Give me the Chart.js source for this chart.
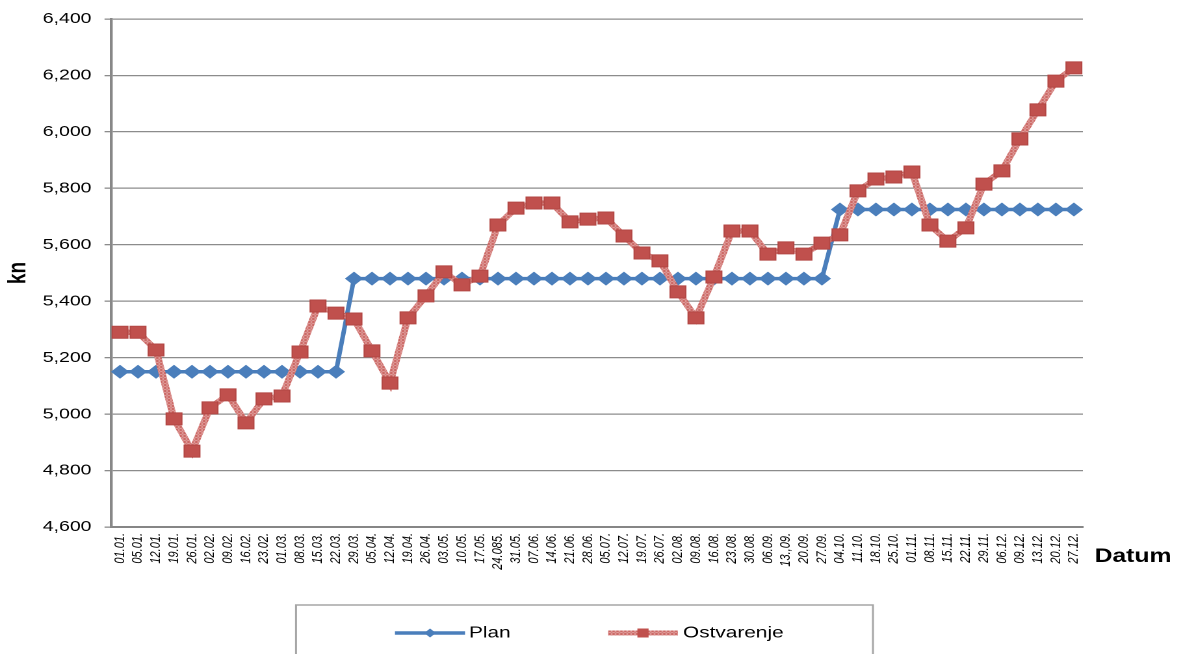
<!DOCTYPE html>
<html>
<head>
<meta charset="utf-8">
<title>Plan / Ostvarenje</title>
<script src="https://cdn.jsdelivr.net/npm/chart.js@4.4.1/dist/chart.umd.min.js"></script>
<style>
    html, body { margin: 0; padding: 0; background: #fff; overflow: hidden; }
    /* the original picture is stretched sideways, so the chart is drawn narrower and scaled */
    #wrap { width: 910px; height: 654px; transform: scaleX(1.3); transform-origin: 0 0; }
</style>
</head>
<body>
<div id="wrap"><canvas id="lineChart"></canvas></div>
<script>
// x kategorije (datumi)
const datumi = ['01.01.', '05.01.', '12.01.', '19.01.', '26.01.', '02.02.', '09.02.', '16.02.', '23.02.',
    '01.03.', '08.03.', '15.03.', '22.03.', '29.03.', '05.04.', '12.04.', '19.04.', '26.04.', '03.05.',
    '10.05.', '17.05.', '24.085.', '31.05.', '07.06.', '14.06.', '21.06.', '28.06.', '05.07.', '12.07.',
    '19.07.', '26.07.', '02.08.', '09.08.', '16.08.', '23.08.', '30.08.', '06.09.', '13.,09.', '20.09.',
    '27.09.', '04.10.', '11.10.', '18.10.', '25.10.', '01.11.', '08.11.', '15.11.', '22.11.', '29.11.',
    '06.12.', '09.12.', '13.12.', '20.12.', '27.12.'];

const plan = [5150, 5150, 5150, 5150, 5150, 5150, 5150, 5150, 5150, 5150, 5150, 5150, 5150,
    5480, 5480, 5480, 5480, 5480, 5480, 5480, 5480, 5480, 5480, 5480, 5480, 5480, 5480,
    5480, 5480, 5480, 5480, 5480, 5480, 5480, 5480, 5480, 5480, 5480, 5480, 5480,
    5725, 5725, 5725, 5725, 5725, 5725, 5725, 5725, 5725, 5725, 5725, 5725, 5725, 5725];

const ostvarenje = [5290, 5290, 5227, 4983, 4869, 5022, 5068, 4969, 5054, 5064,
    5220, 5383, 5358, 5337, 5224, 5110, 5341, 5419, 5504, 5458,
    5489, 5670, 5730, 5748, 5748, 5681, 5691, 5695, 5631, 5571,
    5543, 5433, 5341, 5486, 5649, 5649, 5567, 5589, 5567, 5606,
    5635, 5791, 5833, 5840, 5858, 5670, 5613, 5660, 5815, 5862,
    5975, 6078, 6180, 6227];

// y os
const yMin = 4600;
const yMax = 6400;
const yStep = 200;

const BLUE = '#4A7EBB';
const RED = '#C0504D';

// crvena linija ima "šrafiran" izgled
function hatchPattern() {
    let c = document.createElement('canvas');
    c.width = 3;
    c.height = 3;
    let g = c.getContext('2d');
    g.fillStyle = '#E6B0AE';
    g.fillRect(0, 0, 3, 3);
    g.fillStyle = '#C95F5C';
    g.fillRect(0, 0, 2, 2);
    g.fillRect(2, 2, 1, 1);
    return g.createPattern(c, 'repeat');
}
const redLine = hatchPattern();

// legenda u okviru + naslov osi "Datum"
const extras = {
    id: 'extras',
    afterDraw(chart) {
        let ctx = chart.ctx;
        ctx.save();
        ctx.strokeStyle = '#A6A6A6';
        ctx.lineWidth = 1.5;
        ctx.strokeRect(227.7, 605, 443.8, 90);

        // Plan
        ctx.strokeStyle = BLUE;
        ctx.lineWidth = 3.5;
        ctx.beginPath();
        ctx.moveTo(303.8, 633);
        ctx.lineTo(357.7, 633);
        ctx.stroke();
        ctx.fillStyle = BLUE;
        ctx.beginPath();
        ctx.moveTo(330.8 - 4.5, 633);
        ctx.lineTo(330.8, 628.5);
        ctx.lineTo(330.8 + 4.5, 633);
        ctx.lineTo(330.8, 637.5);
        ctx.closePath();
        ctx.fill();

        // Ostvarenje
        ctx.strokeStyle = redLine;
        ctx.lineWidth = 5;
        ctx.beginPath();
        ctx.moveTo(467.7, 633);
        ctx.lineTo(521.5, 633);
        ctx.stroke();
        ctx.fillStyle = RED;
        ctx.fillRect(490.3, 628.5, 8.6, 9);

        ctx.fillStyle = '#000';
        ctx.textBaseline = 'middle';
        ctx.textAlign = 'left';
        ctx.font = '16px "Liberation Sans", Arial, sans-serif';
        ctx.fillText('Plan', 360.8, 633);
        ctx.fillText('Ostvarenje', 525.4, 633);

        ctx.font = 'bold 19px "Liberation Sans", Arial, sans-serif';
        ctx.fillText('Datum', 842, 557);
        ctx.restore();
    }
};

new Chart(document.getElementById('lineChart'), {
    type: 'line',
    data: {
        labels: datumi,
        datasets: [
            {
                label: 'Plan',
                data: plan,
                order: 2,
                borderColor: BLUE,
                backgroundColor: BLUE,
                borderWidth: 3.5,
                tension: 0,
                pointStyle: 'rectRot',
                pointRadius: 7,
                pointBorderWidth: 0,
                pointBackgroundColor: BLUE
            },
            {
                label: 'Ostvarenje',
                data: ostvarenje,
                order: 1,
                borderColor: redLine,
                backgroundColor: RED,
                borderWidth: 5.5,
                tension: 0,
                pointStyle: 'rect',
                pointRadius: 8.5,
                pointBorderWidth: 1,
                pointBackgroundColor: RED,
                pointBorderColor: '#B34744'
            }
        ]
    },
    options: {
        responsive: true,
        maintainAspectRatio: false,
        animation: false,
        devicePixelRatio: 2,
        events: [],
        layout: {
            padding: {left: 3, right: 77, top: 19, bottom: 62}
        },
        plugins: {
            legend: {display: false},
            tooltip: {enabled: false}
        },
        scales: {
            x: {
                type: 'category',
                offset: true,
                grid: {display: false, drawTicks: false},
                border: {display: true, color: '#868686', width: 2},
                ticks: {
                    autoSkip: false,
                    minRotation: 90,
                    maxRotation: 90,
                    padding: 6,
                    color: '#000',
                    font: {family: '"Liberation Sans", Arial, sans-serif', size: 11, style: 'italic'}
                },
                afterFit(scale) {
                    scale.height = 65;
                }
            },
            y: {
                min: yMin,
                max: yMax,
                grid: {color: '#8C8C8C', lineWidth: 1.3, tickLength: 5},
                border: {display: true, color: '#888888', width: 2.2},
                ticks: {
                    stepSize: yStep,
                    padding: 10,
                    color: '#000',
                    font: {family: '"Liberation Sans", Arial, sans-serif', size: 15},
                    callback: (v) => v.toLocaleString('en-US')
                },
                title: {
                    display: true,
                    text: 'kn',
                    color: '#000',
                    padding: 0,
                    font: {family: '"Liberation Sans", Arial, sans-serif', size: 19, weight: 'bold'}
                },
                afterFit(scale) {
                    scale.width = 82.4;
                }
            }
        }
    },
    plugins: [extras]
});
</script>
</body>
</html>
